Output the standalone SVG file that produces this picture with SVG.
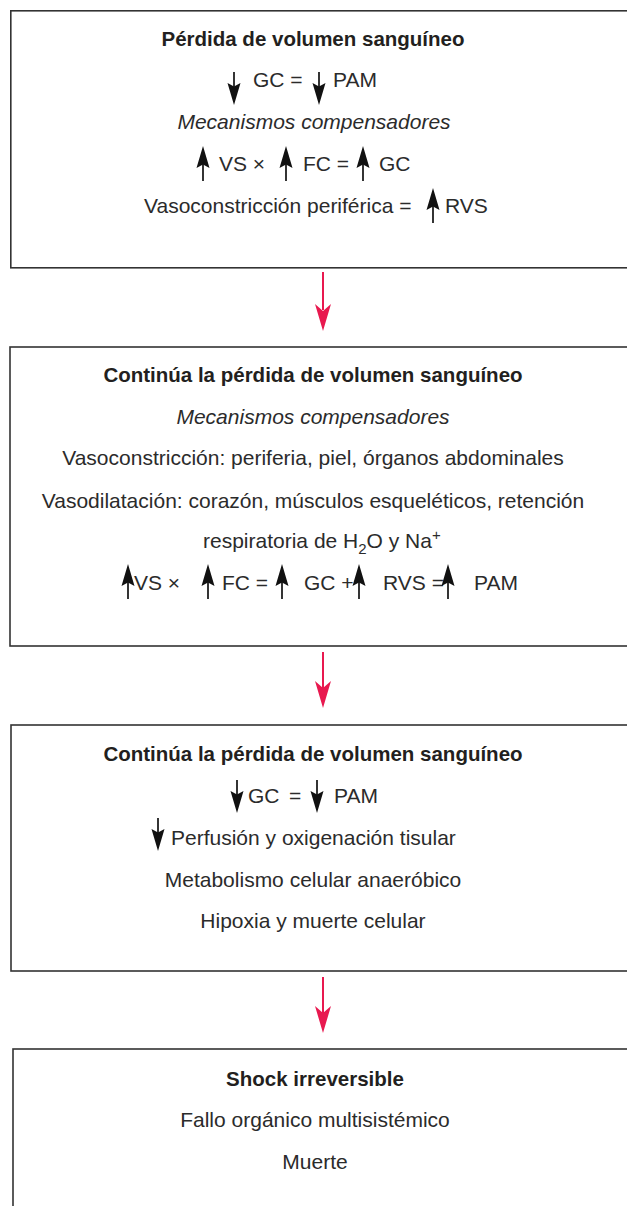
<svg xmlns="http://www.w3.org/2000/svg" xmlns:xlink="http://www.w3.org/1999/xlink" width="627" height="1206" viewBox="0 0 627 1206">
<style>
.box{fill:#fff;stroke:#333;stroke-width:1.6}
.t{font-family:"Liberation Sans",Arial,sans-serif;font-size:21px;fill:#2b2b2b}
.b{font-family:"Liberation Sans",Arial,sans-serif;font-size:20.5px;font-weight:bold;fill:#231f20}
.i{font-style:italic}
.c{text-anchor:middle}
.conn{stroke:#e8194f;stroke-width:2;fill:none}
.rh{fill:#e8194f}
</style>
<defs>
<g id="up"><path d="M0 0 L6.5 22 L0 18.5 L-6.5 22 Z" fill="#111"/><line x1="0" y1="16" x2="0" y2="35" stroke="#111" stroke-width="1.7"/></g>
<g id="down"><path d="M0 0 L6.5 -22 L0 -18.5 L-6.5 -22 Z" fill="#111"/><line x1="0" y1="-16" x2="0" y2="-33" stroke="#111" stroke-width="1.7"/></g>
<path id="rhead" d="M-8 -27 L0 -20 L8 -27 L0 0 Z"/>
</defs>

<g id="connectors">
<line class="conn" x1="323" y1="272" x2="323" y2="310"/><use xlink:href="#rhead" class="rh" x="323" y="331"/>
<line class="conn" x1="323" y1="652" x2="323" y2="688"/><use xlink:href="#rhead" class="rh" x="323" y="708"/>
<line class="conn" x1="323" y1="977" x2="323" y2="1013"/><use xlink:href="#rhead" class="rh" x="323" y="1033"/>
</g>

<g id="node1">
<rect class="box" x="10.8" y="10.8" width="640" height="257"/>
<text class="b c" x="313" y="46">Pérdida de volumen sanguíneo</text>
<use xlink:href="#down" x="234" y="105"/>
<text class="t" x="253" y="87">GC =</text>
<use xlink:href="#down" x="319" y="105"/>
<text class="t" x="333" y="87">PAM</text>
<text class="t i c" x="314" y="129">Mecanismos compensadores</text>
<use xlink:href="#up" x="203" y="146"/>
<text class="t" x="219" y="171">VS ×</text>
<use xlink:href="#up" x="286" y="146"/>
<text class="t" x="303" y="171">FC =</text>
<use xlink:href="#up" x="363" y="146"/>
<text class="t" x="379" y="171">GC</text>
<text class="t" x="144" y="213">Vasoconstricción periférica =</text>
<use xlink:href="#up" x="433" y="188"/>
<text class="t" x="445" y="213">RVS</text>
</g>

<g id="node2">
<rect class="box" x="10" y="347" width="640" height="299"/>
<text class="b c" x="313" y="382">Continúa la pérdida de volumen sanguíneo</text>
<text class="t i c" x="313" y="424">Mecanismos compensadores</text>
<text class="t c" x="313" y="465">Vasoconstricción: periferia, piel, órganos abdominales</text>
<text class="t c" x="313" y="508">Vasodilatación: corazón, músculos esqueléticos, retención</text>
<text class="t" x="203" y="548">respiratoria de H<tspan font-size="15" dy="6">2</tspan><tspan dy="-6">O y Na</tspan><tspan font-size="15" dy="-8">+</tspan></text>
<use xlink:href="#up" x="128" y="564"/>
<text class="t" x="134" y="590">VS ×</text>
<use xlink:href="#up" x="208" y="564"/>
<text class="t" x="222" y="590">FC =</text>
<use xlink:href="#up" x="282" y="564"/>
<text class="t" x="304" y="590">GC +</text>
<use xlink:href="#up" x="359" y="564"/>
<text class="t" x="383" y="590">RVS =</text>
<use xlink:href="#up" x="448" y="564"/>
<text class="t" x="474" y="590">PAM</text>
</g>

<g id="node3">
<rect class="box" x="11" y="725" width="640" height="246"/>
<text class="b c" x="313" y="761">Continúa la pérdida de volumen sanguíneo</text>
<use xlink:href="#down" x="237" y="813"/>
<text class="t" x="248" y="803">GC</text>
<text class="t" x="289" y="803">=</text>
<use xlink:href="#down" x="317" y="813"/>
<text class="t" x="334" y="803">PAM</text>
<use xlink:href="#down" x="158" y="851"/>
<text class="t" x="171" y="845">Perfusión y oxigenación tisular</text>
<text class="t c" x="313" y="887">Metabolismo celular anaeróbico</text>
<text class="t c" x="313" y="928">Hipoxia y muerte celular</text>
</g>

<g id="node4">
<rect class="box" x="13" y="1049" width="640" height="200"/>
<text class="b c" x="315" y="1086">Shock irreversible</text>
<text class="t c" x="315" y="1127">Fallo orgánico multisistémico</text>
<text class="t c" x="315" y="1169">Muerte</text>
</g>
</svg>
